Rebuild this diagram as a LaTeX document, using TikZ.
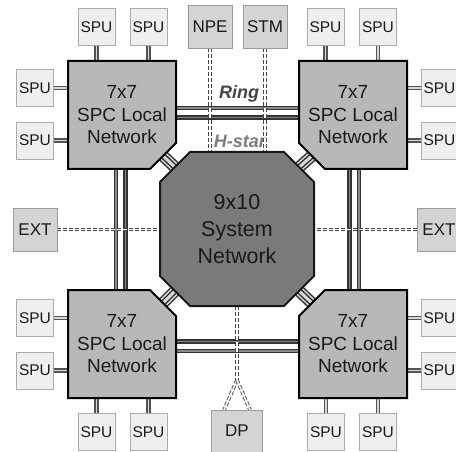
\documentclass[tikz,border=0pt]{standalone}
\usepackage{fontspec}
\setmainfont{Liberation Sans}
\usetikzlibrary{calc}

\definecolor{txt}{HTML}{1A1A1A}
\definecolor{spcfill}{HTML}{B8B8B8}
\definecolor{sysfill}{HTML}{7A7A7A}
\definecolor{spufill}{HTML}{EFEFEF}
\definecolor{spuline}{HTML}{ABABAB}
\definecolor{portfill}{HTML}{D4D4D4}
\definecolor{portline}{HTML}{9C9C9C}
\definecolor{linkdark}{HTML}{333333}
\definecolor{linkmid}{HTML}{8A8A8A}
\definecolor{linklight}{HTML}{D8D8D8}
\definecolor{ringtxt}{HTML}{454545}
\definecolor{startxt}{HTML}{7C7C7C}

\pgfdeclarelayer{bg}
\pgfsetlayers{bg,main}

\begin{document}
\begin{tikzpicture}[x=1pt,y=-1pt,
  spc/.style={minimum width=108pt, minimum height=108pt, inner sep=0pt, outer sep=0pt,
    align=center, text=txt, font=\fontsize{19}{22.5}\selectfont},
  sysnet/.style={minimum width=154pt, minimum height=154pt, inner sep=0pt, outer sep=0pt,
    align=center, text=txt, font=\fontsize{21.5}{27}\selectfont},
  spu/.style={draw=spuline, fill=spufill, line width=0.8pt, minimum width=37pt,
    minimum height=37pt, inner sep=0pt, outer sep=0pt, text=txt,
    font=\fontsize{15.5}{18}\selectfont},
  port/.style={draw=portline, fill=portfill, line width=0.8pt, minimum width=44pt,
    minimum height=43pt, inner sep=0pt, outer sep=0pt, text=txt,
    font=\fontsize{17}{20}\selectfont},
  spcshape/.style={fill=spcfill, draw=black, line width=2pt},
  sysshape/.style={fill=sysfill, draw=black!90, line width=2pt},
  spclink/.style={draw=linkdark, line width=1.8pt, double=linkmid, double distance=1.3pt},
  spulink/.style={draw=linkdark!85, line width=1.2pt, double=linklight, double distance=1.8pt},
  ctrlink/.style={draw=linkdark!90, line width=0.9pt, double=white, double distance=1.7pt,
    dash pattern=on 4pt off 2pt},
  hstar/.style={draw=linkdark, line width=1.5pt, double=linklight, double distance=9pt,
    postaction={draw=linkdark, line width=1.5pt, double=linklight, double distance=3pt}},
  lbl/.style={font=\fontsize{18}{20}\selectfont\bfseries\itshape, inner sep=0pt}
]
\useasboundingbox (0,0) rectangle (456,452);

% SPC local networks and the system network (text; outlines on the bg layer)
\node[spc] (tl) at (122,115) {7x7\\SPC Local\\Network};
\node[spc] (tr) at (353,115) {7x7\\SPC Local\\Network};
\node[spc] (bl) at (122,344) {7x7\\SPC Local\\Network};
\node[spc] (br) at (353,344) {7x7\\SPC Local\\Network};
\node[sysnet] (sys) at (237,229) {9x10\\System\\Network};

% SPUs
\node[spu] (tl1) at (96.5,27) {SPU};
\node[spu] (tl2) at (148.5,27) {SPU};
\node[spu] (tl3) at (35,88) {SPU};
\node[spu] (tl4) at (35,140.5) {SPU};
\node[spu] (tr1) at (325.5,27) {SPU};
\node[spu] (tr2) at (378,27) {SPU};
\node[spu] (tr3) at (439.5,88) {SPU};
\node[spu] (tr4) at (439.5,140.5) {SPU};
\node[spu] (bl1) at (35,318) {SPU};
\node[spu] (bl2) at (35,370.5) {SPU};
\node[spu] (bl3) at (96.5,432) {SPU};
\node[spu] (bl4) at (148.5,432) {SPU};
\node[spu] (br1) at (439.5,318) {SPU};
\node[spu] (br2) at (439.5,370.5) {SPU};
\node[spu] (br3) at (326,432) {SPU};
\node[spu] (br4) at (378,432) {SPU};

% external ports
\node[port] (npe) at (210,26.5) {NPE};
\node[port] (stm) at (265,26.5) {STM};
\node[port] (extl) at (35,229.5) {EXT};
\node[port] (extr) at (439,229.5) {EXT};
\node[port, minimum width=51pt, minimum height=42pt] (dp) at (237,431) {DP};

% ring label
\node[lbl, text=ringtxt, anchor=base] (ringlabel) at (239,99) {Ring};

\begin{pgfonlayer}{bg}
  % ring links between neighbouring SPC networks
  \draw[spclink] ($(tl.east)+(0,-7)$) -- ($(tr.west)+(0,-7)$);
  \draw[spclink] ($(tl.east)+(0,2.5)$) -- ($(tr.west)+(0,2.5)$);
  \draw[spclink] ($(bl.east)+(0,-2.5)$) -- ($(br.west)+(0,-2.5)$);
  \draw[spclink] ($(bl.east)+(0,7)$) -- ($(br.west)+(0,7)$);
  \draw[spclink] ($(tl.south)+(-6,0)$) -- ($(bl.north)+(-6,0)$);
  \draw[spclink] ($(tl.south)+(3.5,0)$) -- ($(bl.north)+(3.5,0)$);
  \draw[spclink] ($(tr.south)+(-3.5,0)$) -- ($(br.north)+(-3.5,0)$);
  \draw[spclink] ($(tr.south)+(6,0)$) -- ($(br.north)+(6,0)$);

  % SPU attachments
  \draw[spulink] (tl1.south) -- (tl1.south |- tl.north);
  \draw[spulink] (tl2.south) -- (tl2.south |- tl.north);
  \draw[spulink] (tl3.east) -- (tl3.east -| tl.west);
  \draw[spulink] (tl4.east) -- (tl4.east -| tl.west);
  \draw[spulink] (tr1.south) -- (tr1.south |- tr.north);
  \draw[spulink] (tr2.south) -- (tr2.south |- tr.north);
  \draw[spulink] (tr3.west) -- (tr3.west -| tr.east);
  \draw[spulink] (tr4.west) -- (tr4.west -| tr.east);
  \draw[spulink] (bl1.east) -- (bl1.east -| bl.west);
  \draw[spulink] (bl2.east) -- (bl2.east -| bl.west);
  \draw[spulink] (bl3.north) -- (bl3.north |- bl.south);
  \draw[spulink] (bl4.north) -- (bl4.north |- bl.south);
  \draw[spulink] (br1.west) -- (br1.west -| br.east);
  \draw[spulink] (br2.west) -- (br2.west -| br.east);
  \draw[spulink] (br3.north) -- (br3.north |- br.south);
  \draw[spulink] (br4.north) -- (br4.north |- br.south);

  % H-star label sits under the control lines
  \node[lbl, text=startxt, anchor=base] (hstarlabel) at (240,148) {H-star};

  % control / external links
  \draw[ctrlink] (npe.south) -- (npe.south |- sys.north);
  \draw[ctrlink] (stm.south) -- (stm.south |- sys.north);
  \draw[ctrlink] (extl.east) -- (extl.east -| sys.west);
  \draw[ctrlink] (extr.west) -- (extr.west -| sys.east);
  \coordinate (fork) at (237,380);
  \draw[ctrlink] (sys.south) -- (fork);
  \draw[ctrlink] (fork) -- ($(dp.north)+(-13,0)$);
  \draw[ctrlink] (fork) -- ($(dp.north)+(13,0)$);

  % H-star links from each SPC network to the system network
  \draw[hstar] ($(tl.south east)+(-15,-15)$) -- ($(sys.north west)+(18,18)$);
  \draw[hstar] ($(tr.south west)+(15,-15)$) -- ($(sys.north east)+(-18,18)$);
  \draw[hstar] ($(bl.north east)+(-15,15)$) -- ($(sys.south west)+(18,-18)$);
  \draw[hstar] ($(br.north west)+(15,15)$) -- ($(sys.south east)+(-18,-18)$);

  % chamfered SPC network outlines
  \filldraw[spcshape] (tl.north west) -- (tl.north east) -- ($(tl.south east)+(0,-26)$)
    -- ($(tl.south east)+(-26,0)$) -- (tl.south west) -- cycle;
  \filldraw[spcshape] (tr.north west) -- (tr.north east) -- (tr.south east)
    -- ($(tr.south west)+(26,0)$) -- ($(tr.south west)+(0,-26)$) -- cycle;
  \filldraw[spcshape] (bl.north west) -- ($(bl.north east)+(-26,0)$)
    -- ($(bl.north east)+(0,26)$) -- (bl.south east) -- (bl.south west) -- cycle;
  \filldraw[spcshape] ($(br.north west)+(26,0)$) -- (br.north east) -- (br.south east)
    -- (br.south west) -- ($(br.north west)+(0,26)$) -- cycle;

  % octagonal system network
  \filldraw[sysshape] ($(sys.north west)+(30,0)$) -- ($(sys.north east)+(-30,0)$)
    -- ($(sys.north east)+(0,30)$) -- ($(sys.south east)+(0,-30)$)
    -- ($(sys.south east)+(-30,0)$) -- ($(sys.south west)+(30,0)$)
    -- ($(sys.south west)+(0,-30)$) -- ($(sys.north west)+(0,30)$) -- cycle;
\end{pgfonlayer}
\end{tikzpicture}
\end{document}
